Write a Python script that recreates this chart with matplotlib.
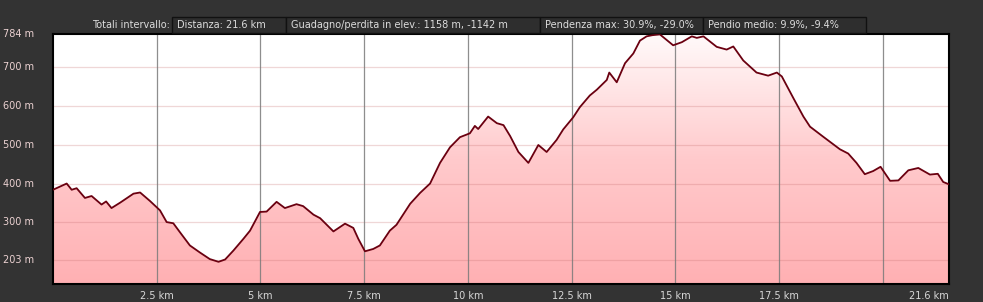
import numpy as np
import matplotlib
matplotlib.use("Agg")
import matplotlib.pyplot as plt
from matplotlib.patches import Rectangle
from matplotlib.colors import LinearSegmentedColormap
import matplotlib.transforms as mtransforms

# ---- data ----
dist_km = [0.00, 0.33, 0.45, 0.57, 0.77, 0.93, 1.17, 1.28, 1.41, 1.62, 1.94, 2.10,
           2.34, 2.58, 2.74, 2.90, 3.06, 3.30, 3.54, 3.78, 3.99, 4.15, 4.35, 4.59,
           4.75, 4.99, 5.15, 5.39, 5.59, 5.87, 6.03, 6.28, 6.44, 6.76, 7.04, 7.24,
           7.36, 7.52, 7.72, 7.88, 8.12, 8.28, 8.61, 8.85, 9.09, 9.33, 9.57, 9.81,
           10.05, 10.17, 10.25, 10.49, 10.70, 10.86, 11.02, 11.22, 11.46, 11.70, 11.90,
           12.14, 12.30, 12.54, 12.70, 12.94, 13.11, 13.35, 13.41, 13.59, 13.79, 13.99,
           14.15, 14.31, 14.45, 14.63, 14.95, 15.16, 15.40, 15.52, 15.68, 16.00, 16.24,
           16.40, 16.64, 16.96, 17.24, 17.45, 17.57, 17.85, 18.09, 18.25, 18.57, 18.97,
           19.17, 19.37, 19.57, 19.77, 19.95, 20.18, 20.38, 20.62, 20.86, 21.14, 21.33,
           21.46, 21.60]
elev_m = [384, 400, 384, 388, 363, 368, 346, 354, 337, 351, 374, 377,
          355, 331, 301, 298, 275, 241, 223, 206, 199, 205, 228, 258,
          279, 327, 328, 353, 337, 347, 342, 320, 311, 277, 297, 286,
          258, 226, 232, 241, 279, 294, 348, 376, 400, 453, 493, 519,
          529, 548, 540, 572, 555, 550, 522, 481, 453, 499, 481,
          512, 539, 570, 596, 626, 641, 666, 685, 660, 709, 734,
          767, 778, 781, 783, 755, 763, 778, 774, 778, 751, 744,
          752, 716, 685, 677, 685, 675, 619, 572, 546, 520, 488,
          477, 453, 424, 432, 443, 407, 408, 434, 440, 423, 425,
          404, 398]

y_ticks = [203, 300, 400, 500, 600, 700, 784]
x_grid = [2.5, 5, 7.5, 10, 12.5, 15, 17.5, 20]
x_ticks = [2.5, 5, 7.5, 10, 12.5, 15, 17.5, 21.6]
x_labels = ["2.5 km", "5 km", "7.5 km", "10 km", "12.5 km", "15 km", "17.5 km", "21.6 km"]
header_lead = "Totali intervallo:"
header_boxes = ["Distanza: 21.6 km",
                "Guadagno/perdita in elev.: 1158 m, -1142 m",
                "Pendenza max: 30.9%, -29.0%",
                "Pendio medio: 9.9%, -9.4%"]
y_min, y_max = 142, 784
x_min, x_max = 0, 21.6

# ---- figure ----
W, H = 983, 302
fig = plt.figure(figsize=(W / 100, H / 100), dpi=100, facecolor="#333333")
ax = fig.add_axes([53 / W, (H - 284) / H, 896 / W, 250 / H])
ax.set_facecolor("white")
ax.set_xlim(x_min, x_max)
ax.set_ylim(y_min, y_max)

# gradient fill under the profile
cmap = LinearSegmentedColormap.from_list("pinkgrad", ["#ffb0b3", "#ffcacc", "#fffafa"])
grad = np.linspace(0, 1, 256).reshape(-1, 1)
img = ax.imshow(grad, extent=[x_min, x_max, y_min, y_max], origin="lower",
                aspect="auto", cmap=cmap, zorder=1)
poly = ax.fill_between(dist_km, elev_m, y_min, facecolor="none", edgecolor="none", zorder=1)
img.set_clip_path(poly.get_paths()[0], transform=ax.transData)

# grid lines
for yv in y_ticks[:-1]:
    ax.axhline(yv, color="#c87070", alpha=0.28, lw=0.9, zorder=2)
for xv in x_grid:
    ax.axvline(xv, color="#7a7a7a", alpha=0.85, lw=0.9, zorder=2)

# profile line
ax.plot(dist_km, elev_m, color="#6a0010", lw=1.3, zorder=3, solid_joinstyle="round")

for s in ax.spines.values():
    s.set_color("black")
    s.set_linewidth(1.5)

ax.set_yticks([])
ax.set_xticks(x_ticks)
ax.set_xticklabels(x_labels, color="#d8d8d8", fontsize=7)
ax.tick_params(axis="x", length=0, pad=5)
ax.get_xticklabels()[-1].set_ha("right")

# y labels at left edge of figure
trans = mtransforms.blended_transform_factory(fig.transFigure, ax.transData)
for yv in y_ticks:
    ax.text(3 / W, yv, f"{yv} m", transform=trans, ha="left", va="center",
            fontsize=7, color="#ecd2d2")

# header
ov = fig.add_axes([0, 0, 1, 1], facecolor="none")
ov.set_xlim(0, W)
ov.set_ylim(H, 0)
ov.axis("off")
ov.text(170, 25, header_lead, ha="right", va="center", fontsize=7, color="#dcdcdc")
edges = [172, 286, 540, 703, 866]
for i, label in enumerate(header_boxes):
    x0, x1 = edges[i], edges[i + 1]
    ov.add_patch(Rectangle((x0, 17), x1 - x0, 16, facecolor="#2e2e2e",
                           edgecolor="#111111", lw=1.0))
    ov.text(x0 + 5, 25, label, ha="left", va="center", fontsize=7, color="#dcdcdc")

fig.savefig("out.png", dpi=100, facecolor=fig.get_facecolor())
